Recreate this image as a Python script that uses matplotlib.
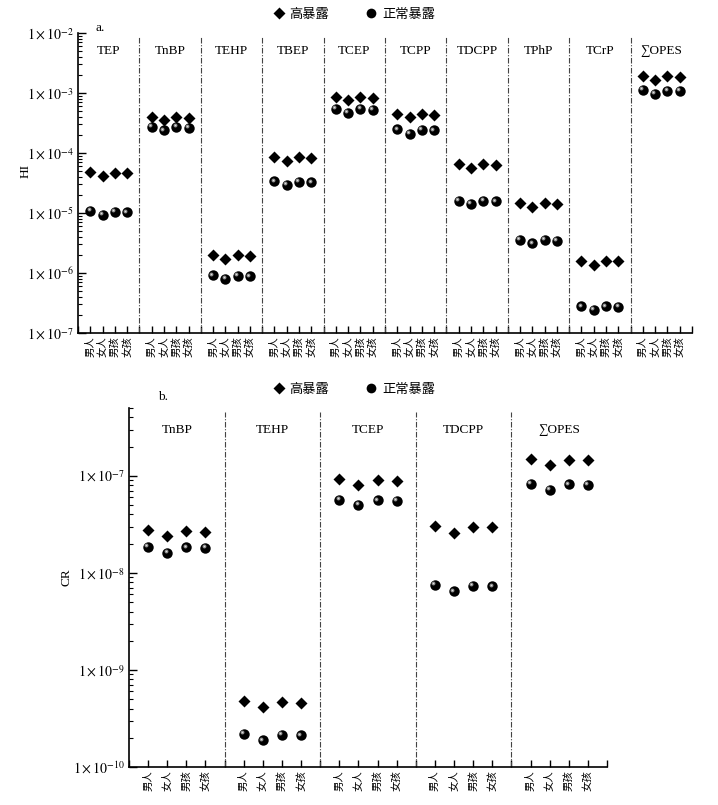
import numpy as np
import matplotlib
matplotlib.use('Agg')
from matplotlib import pyplot as plt
from matplotlib import transforms
from matplotlib.lines import Line2D
from matplotlib.ticker import FixedLocator, FuncFormatter, NullFormatter

plt.rcParams['font.family'] = ['Liberation Serif', 'Noto Sans CJK SC', 'DejaVu Serif']
plt.rcParams['mathtext.fontset'] = 'stix'

# groups on the x axis
people = ['男人', '女人', '男孩', '女孩']
legend_names = ['高暴露', '正常暴露']

# panel a: HI
hi_compounds = ['TEP', 'TnBP', 'TEHP', 'TBEP', 'TCEP', 'TCPP', 'TDCPP', 'TPhP', 'TCrP', '∑OPES']
hi_high = [
    [4.8e-5, 4.2e-5, 4.7e-5, 4.6e-5],
    [4.0e-4, 3.5e-4, 4.0e-4, 3.9e-4],
    [2.0e-6, 1.72e-6, 2.0e-6, 1.93e-6],
    [8.7e-5, 7.3e-5, 8.7e-5, 8.4e-5],
    [8.7e-4, 7.55e-4, 8.6e-4, 8.4e-4],
    [4.53e-4, 3.93e-4, 4.5e-4, 4.35e-4],
    [6.55e-5, 5.6e-5, 6.45e-5, 6.2e-5],
    [1.44e-5, 1.25e-5, 1.44e-5, 1.39e-5],
    [1.61e-6, 1.38e-6, 1.6e-6, 1.57e-6],
    [1.93e-3, 1.67e-3, 1.9e-3, 1.87e-3],
]
hi_normal = [
    [1.09e-5, 9.4e-6, 1.05e-5, 1.03e-5],
    [2.75e-4, 2.38e-4, 2.7e-4, 2.65e-4],
    [9.2e-7, 8.0e-7, 9.0e-7, 8.8e-7],
    [3.36e-5, 2.92e-5, 3.3e-5, 3.25e-5],
    [5.4e-4, 4.66e-4, 5.4e-4, 5.3e-4],
    [2.48e-4, 2.1e-4, 2.44e-4, 2.38e-4],
    [1.6e-5, 1.41e-5, 1.6e-5, 1.57e-5],
    [3.61e-6, 3.14e-6, 3.6e-6, 3.46e-6],
    [2.79e-7, 2.42e-7, 2.8e-7, 2.7e-7],
    [1.13e-3, 9.66e-4, 1.1e-3, 1.08e-3],
]

# panel b: CR
cr_compounds = ['TnBP', 'TEHP', 'TCEP', 'TDCPP', '∑OPES']
cr_high = [
    [2.74e-8, 2.38e-8, 2.7e-8, 2.66e-8],
    [4.79e-10, 4.13e-10, 4.7e-10, 4.6e-10],
    [9.25e-8, 8.0e-8, 9.0e-8, 8.8e-8],
    [3.06e-8, 2.6e-8, 3.0e-8, 2.95e-8],
    [1.5e-7, 1.29e-7, 1.47e-7, 1.45e-7],
]
cr_normal = [
    [1.87e-8, 1.62e-8, 1.84e-8, 1.82e-8],
    [2.19e-10, 1.89e-10, 2.15e-10, 2.12e-10],
    [5.7e-8, 5.0e-8, 5.6e-8, 5.5e-8],
    [7.53e-9, 6.47e-9, 7.4e-9, 7.25e-9],
    [8.33e-8, 7.23e-8, 8.2e-8, 8.1e-8],
]


def sci_label(v, pos):
    return r'$1\times10^{%d}$' % int(round(np.log10(v)))


def draw_panel(fig, ax, compounds, high, normal, ylim, xfs, ylabel, label_xy):
    n = len(compounds)
    width = len(people) + 1

    for g, name in enumerate(compounds):
        x = g * width + np.arange(1, len(people) + 1)
        ax.plot(x, high[g], 'D', color='black', ms=6.5, mec='none', zorder=3)
        ax.plot(x, normal[g], 'o', color='black', ms=7.5, mec='none', zorder=3)
        # little highlight to make the dots look like spheres
        shine = transforms.offset_copy(ax.transData, fig=fig, x=-1.2, y=1.2, units='points')
        ax.plot(x, normal[g], 'o', color='#8c8c8c', ms=2.8, mec='none', zorder=4, transform=shine)
        ax.plot(x, normal[g], 'o', color='#e0e0e0', ms=1.1, mec='none', zorder=5, transform=shine)
        ax.text(g * width + width / 2, 0.94, name, transform=ax.get_xaxis_transform(),
                ha='center', va='center', fontsize=9.5)
        if g > 0:
            ax.axvline(g * width, ymax=0.99, color='#444444', lw=0.8,
                       linestyle=(0, (5, 1.5, 1, 1.5)))

    ax.set_xlim(0, n * width)
    ax.set_yscale('log')
    ax.set_ylim(*ylim)

    # labelled ticks for each person group, unlabelled ticks at the dividers
    ticks = [t for t in range(n * width + 1) if t % width != 0]
    labels = [people[t % width - 1] for t in ticks]
    ax.set_xticks(ticks)
    ax.set_xticklabels(labels, rotation=90, fontsize=xfs, va='top')
    ax.set_xticks(np.arange(0, n * width + 1, width), minor=True)
    ax.tick_params(axis='x', which='both', direction='in', length=5, width=1, pad=2)

    # only decades inside the y range, so no labels fall off the figure
    lo = int(np.floor(np.log10(ylim[0]) + 1e-9))
    hi = int(np.floor(np.log10(ylim[1]) + 1e-9))
    major = [10.0 ** k for k in range(lo, hi + 1)]
    minor = [m * 10.0 ** k for k in range(lo, hi + 1) for m in range(2, 10)
             if m * 10.0 ** k <= ylim[1] * 1.0001]
    ax.yaxis.set_major_locator(FixedLocator(major))
    ax.yaxis.set_minor_locator(FixedLocator(minor))
    ax.yaxis.set_major_formatter(FuncFormatter(sci_label))
    ax.yaxis.set_minor_formatter(NullFormatter())
    ax.tick_params(axis='y', which='major', direction='in', length=6, width=1, labelsize=10, pad=3)
    ax.tick_params(axis='y', which='minor', direction='in', length=3, width=0.8)

    for side in ['top', 'right']:
        ax.spines[side].set_visible(False)
    for side in ['left', 'bottom']:
        ax.spines[side].set_linewidth(1.2)

    ax.set_ylabel(ylabel, fontsize=9.5)
    ax.yaxis.set_label_coords(*label_xy)


fig = plt.figure(figsize=(7.18, 8.05), dpi=100)

ax_a = fig.add_axes([78 / 718, 1 - 333 / 805, 614 / 718, 300 / 805])
draw_panel(fig, ax_a, hi_compounds, hi_high, hi_normal, (1e-7, 1e-2), 7.5, 'HI', (-0.075, 0.54))

ax_b = fig.add_axes([129 / 718, 1 - 767 / 805, 478 / 718, 359 / 805])
draw_panel(fig, ax_b, cr_compounds, cr_high, cr_normal, (1e-10, 5e-7), 7.5, 'CR', (-0.118, 0.53))

handles = [
    Line2D([], [], marker='D', color='black', ls='none', ms=6.5, mec='none'),
    Line2D([], [], marker='o', color='black', ls='none', ms=7, mec='none'),
]
for yc in [1 - 15 / 805, 1 - 390 / 805]:
    fig.legend(handles, legend_names, loc='center', bbox_to_anchor=(353 / 718, yc), ncol=2,
               frameon=False, fontsize=9.5, handletextpad=0.2, columnspacing=2.6,
               handlelength=1.2)

fig.text(95 / 718, 1 - 28 / 805, 'a.', fontsize=9.5, ha='left', va='center')
fig.text(158 / 718, 1 - 397 / 805, 'b.', fontsize=9.5, ha='left', va='center')

fig.savefig('out.png', dpi=100)
